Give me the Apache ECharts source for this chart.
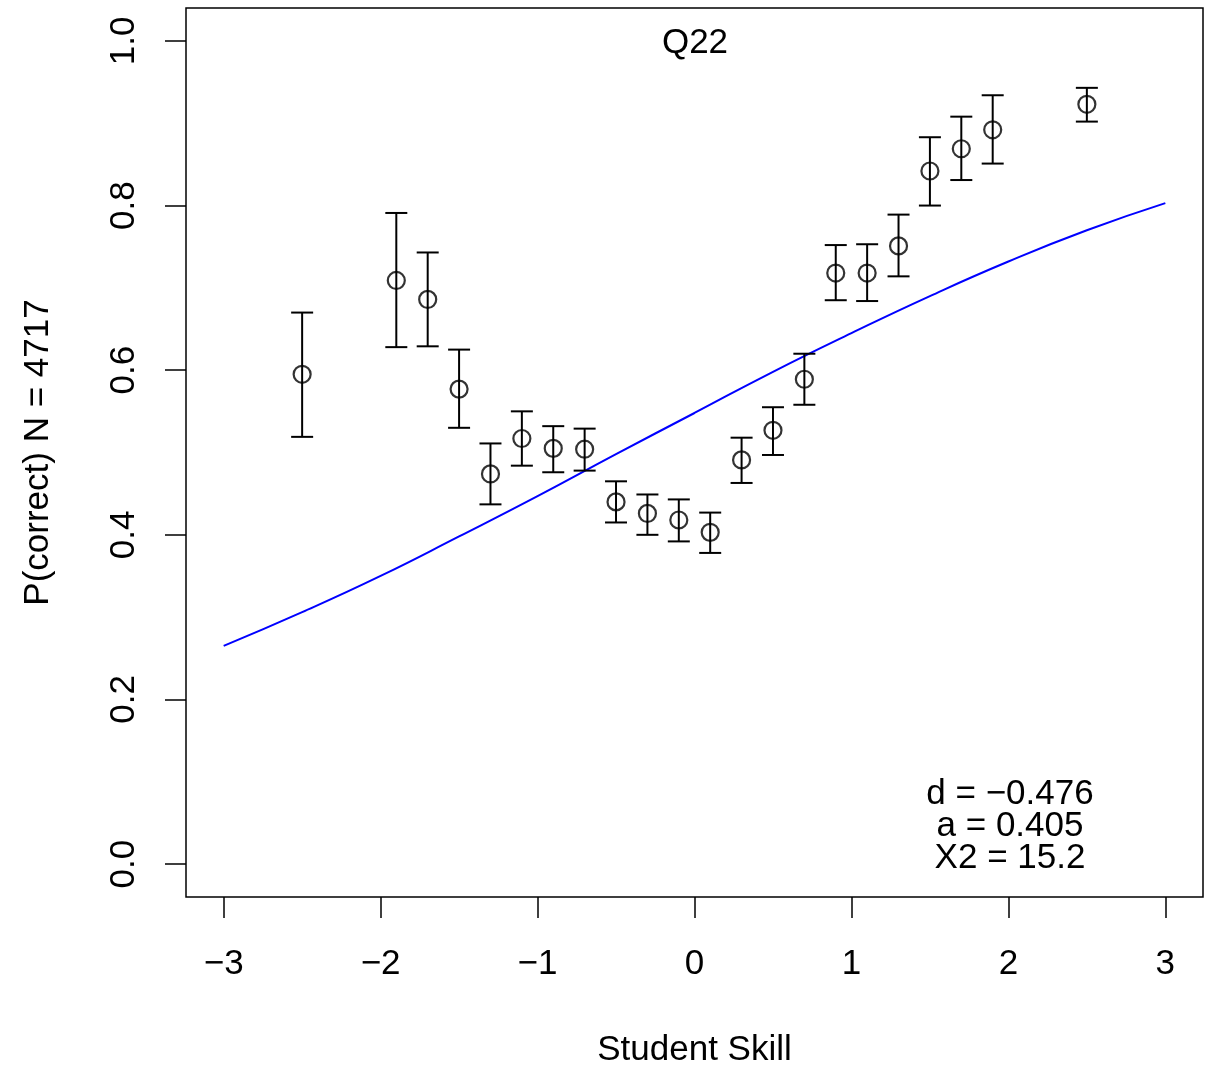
<!DOCTYPE html>
<html>
<head>
<meta charset="utf-8">
<script src="https://cdn.jsdelivr.net/npm/echarts@6/dist/echarts.min.js"></script>
<style>html,body{margin:0;padding:0;background:#fff}#c{width:1208px;height:1066px}</style>
</head>
<body>
<div id="c"></div>
<script>
// ---- data ----
const skill = [-2.5,-1.9,-1.7,-1.5,-1.3,-1.1,-0.9,-0.7,-0.5,-0.3,-0.1,0.1,0.3,0.5,0.7,0.9,1.1,1.3,1.5,1.7,1.9,2.5];
const pCorrect = [0.595,0.709,0.686,0.577,0.474,0.517,0.505,0.504,0.440,0.426,0.418,0.403,0.491,0.527,0.589,0.718,0.718,0.751,0.842,0.869,0.892,0.923];
const pLow  = [0.519,0.628,0.629,0.530,0.437,0.484,0.476,0.478,0.415,0.400,0.392,0.378,0.463,0.497,0.558,0.685,0.684,0.714,0.800,0.831,0.851,0.902];
const pHigh = [0.670,0.791,0.743,0.625,0.511,0.550,0.532,0.529,0.465,0.449,0.443,0.427,0.518,0.555,0.620,0.752,0.753,0.789,0.883,0.908,0.934,0.943];
const curveX = [-3,-2.5,-2,-1.5,-1,-0.5,0,0.5,1,1.5,2,2.5,3];
const curveY = [0.265,0.306,0.350,0.398,0.447,0.498,0.548,0.598,0.645,0.690,0.732,0.770,0.803];
const xTicks = [-3,-2,-1,0,1,2,3];
const yTicks = [0,0.2,0.4,0.6,0.8,1.0];
const titleText = 'Q22';
const statsLines = ['d = \u22120.476','a = 0.405','X2 = 15.2'];
const xTitle = 'Student Skill';
const yTitle = 'P(correct) N = 4717';

const FONT = '"Liberation Sans", Arial, Helvetica, sans-serif';
const FS = 35;

const pts = skill.map((x,i)=>[x,pCorrect[i]]);
const bars = skill.map((x,i)=>[x,pLow[i],pHigh[i]]);
const curve = curveX.map((x,i)=>[x,curveY[i]]);

const chart = echarts.init(document.getElementById('c'), null, {renderer:'canvas'});
chart.setOption({
  animation:false,
  backgroundColor:'#fff',
  grid:{left:186,right:5,top:8,bottom:169,containLabel:false,outerBoundsMode:'none',
        show:true,borderColor:'#000',borderWidth:1.5,backgroundColor:'transparent'},
  xAxis:{
    type:'value',min:-3.24,max:3.24,
    name:xTitle,nameLocation:'middle',nameGap:136,
    nameTextStyle:{fontFamily:FONT,fontSize:FS,color:'#000'},
    axisLine:{show:false,onZero:false},
    splitLine:{show:false},
    axisTick:{show:true,inside:false,length:21,lineStyle:{color:'#000',width:1.5},customValues:xTicks},
    axisLabel:{fontFamily:FONT,fontSize:FS,color:'#000',margin:50,customValues:xTicks,
      formatter:v=>(v<0?'\u2212'+Math.abs(v):String(v))}
  },
  yAxis:{
    type:'value',min:-0.04,max:1.04,
    name:yTitle,nameLocation:'middle',nameGap:130,nameRotate:90,
    nameTextStyle:{fontFamily:FONT,fontSize:FS,color:'#000'},
    axisLine:{show:false,onZero:false},
    splitLine:{show:false},
    axisTick:{show:true,inside:false,length:21,lineStyle:{color:'#000',width:1.5},customValues:yTicks},
    axisLabel:{fontFamily:FONT,fontSize:FS,color:'#000',margin:44,rotate:90,customValues:yTicks,
      formatter:v=>v.toFixed(1)}
  },
  graphic:[
    {type:'text',z:10,
     style:{text:titleText,x:695,y:43,textAlign:'center',textVerticalAlign:'middle',font:FS+'px '+FONT,fill:'#000'}},
    {type:'text',z:10,
     style:{text:statsLines.join('\n'),x:1010,y:826,textAlign:'center',textVerticalAlign:'middle',font:FS+'px '+FONT,lineHeight:32,fill:'#000'}}
  ],
  series:[
    {type:'line',data:curve,smooth:true,symbol:'none',lineStyle:{color:'#0000ff',width:2},z:2},
    {type:'custom',data:bars,z:3,
     renderItem:function(params,api){
       const x=api.value(0);
       const lo=api.coord([x,api.value(1)]);
       const hi=api.coord([x,api.value(2)]);
       const hw=11;
       const st={stroke:'#000',lineWidth:2};
       return {type:'group',children:[
         {type:'line',shape:{x1:lo[0],y1:lo[1],x2:hi[0],y2:hi[1]},style:st},
         {type:'line',shape:{x1:lo[0]-hw,y1:lo[1],x2:lo[0]+hw,y2:lo[1]},style:st},
         {type:'line',shape:{x1:hi[0]-hw,y1:hi[1],x2:hi[0]+hw,y2:hi[1]},style:st}
       ]};
     }},
    {type:'scatter',data:pts,symbol:'circle',symbolSize:17,z:4,
     itemStyle:{color:'rgba(0,0,0,0)',borderColor:'#000',borderWidth:2.2}}
  ]
});
</script>
</body>
</html>
